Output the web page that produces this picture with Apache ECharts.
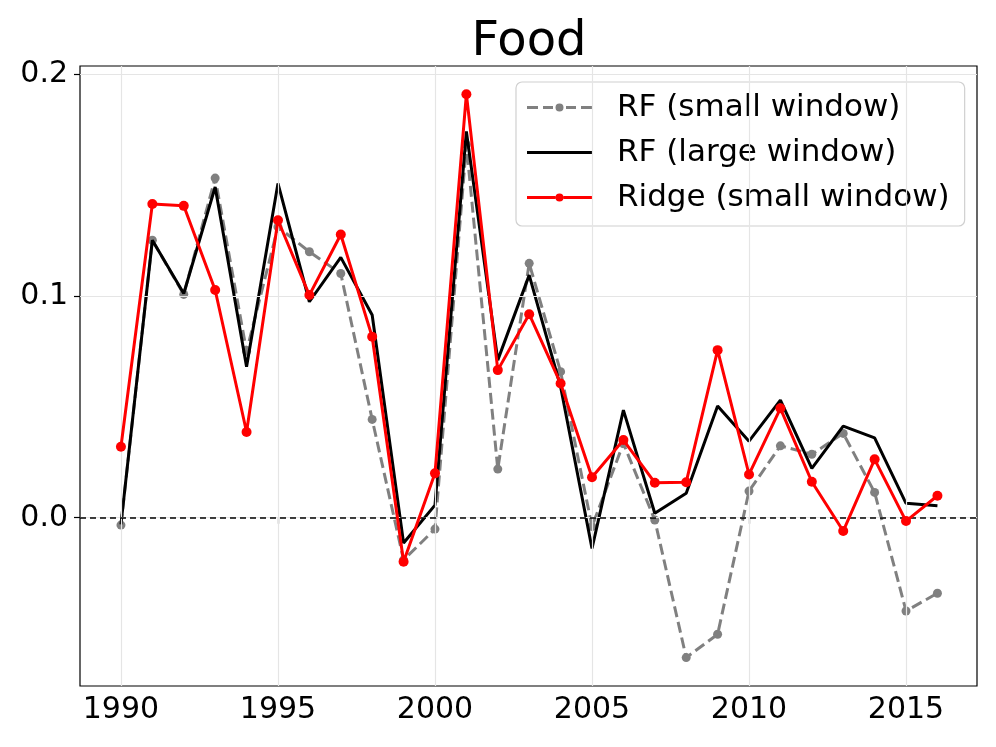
<!DOCTYPE html>
<html>
<head>
<meta charset="utf-8">
<script src="https://cdn.jsdelivr.net/npm/echarts@6/dist/echarts.min.js"></script>
<style>html,body{margin:0;padding:0;background:#fff}#c{width:996px;height:747px}</style>
</head>
<body>
<div id="c"></div>
<script>
var years = [1990,1991,1992,1993,1994,1995,1996,1997,1998,1999,2000,2001,2002,2003,2004,2005,2006,2007,2008,2009,2010,2011,2012,2013,2014,2015,2016];
var rfSmall = [-0.0033,0.125,0.1006,0.153,0.075,0.131,0.1198,0.110,0.0443,-0.019,-0.0051,0.168,0.0219,0.1146,0.0658,-0.004,0.0335,-0.001,-0.063,-0.0525,0.012,0.0324,0.0286,0.038,0.0114,-0.042,-0.034];
var rfLarge = [-0.003,0.125,0.101,0.149,0.068,0.1506,0.0973,0.1173,0.0913,-0.0114,0.0057,0.174,0.071,0.1093,0.059,-0.0138,0.0485,0.002,0.011,0.0503,0.0345,0.053,0.0222,0.0413,0.036,0.0065,0.0054];
var ridge = [0.032,0.1413,0.1405,0.1026,0.0386,0.134,0.1003,0.1276,0.0815,-0.0198,0.020,0.1908,0.0665,0.0917,0.0605,0.0182,0.035,0.0158,0.016,0.0755,0.0195,0.0493,0.0162,-0.006,0.0263,-0.0015,0.0099];
var xTicks = [1990,1995,2000,2005,2010,2015];
var yTicks = [0.0,0.1,0.2];
var names = ['RF (small window)','RF (large window)','Ridge (small window)'];

function pairs(v){ return years.map(function(y,i){ return [y, v[i]]; }); }
var FONT = 'DejaVu Sans';
var DOT = ' M28.5,5a4,4 0 1,1 8,0a4,4 0 1,1 -8,0z';
var iconDashed = 'path://M0,3.5h11v3h-11z M16,3.5h10v3h-10z M39,3.5h10v3h-10z M54,3.5h11v3h-11z' + DOT;
var iconSolid = 'path://M0,3.5h65v3h-65z';
var iconSolidDot = 'path://M0,3.5h28.5v3h-28.5z M36.5,3.5h28.5v3h-28.5z' + DOT;
var chart = echarts.init(document.getElementById('c'), null, {renderer:'canvas'});
var gridLines = xTicks.map(function(t){ return {xAxis:t}; }).concat(yTicks.map(function(t){ return {yAxis:t}; }));
chart.setOption({
  animation:false,
  backgroundColor:'#fff',
  title:{text:'Food', left:524, textAlign:'center', top:14, textStyle:{fontFamily:FONT, fontSize:48, fontWeight:'normal', color:'#000'}},
  grid:{left:80, right:19, top:66, bottom:61, show:true, borderColor:'#000', borderWidth:1.2, backgroundColor:'transparent'},
  legend:{
    data:[{name:names[0], icon:iconDashed},{name:names[1], icon:iconSolid},{name:names[2], icon:iconSolidDot}],
    orient:'vertical', left:516, top:82,
    itemWidth:65, itemHeight:10, itemGap:10,
    padding:[8,15,11,11],
    backgroundColor:'rgba(255,255,255,0.8)', borderColor:'#d0d0d0', borderWidth:1.2, borderRadius:6,
    textStyle:{fontFamily:FONT, fontSize:31, lineHeight:35, color:'#000', padding:[0,0,0,20]}
  },
  xAxis:{
    type:'value', min:1988.696, max:2017.26,
    axisLine:{show:false},
    splitLine:{show:false},
    axisTick:{show:true, customValues:xTicks, length:6, lineStyle:{color:'#000', width:1.2}},
    axisLabel:{customValues:xTicks, fontFamily:FONT, fontSize:30, color:'#000', margin:9, formatter:function(v){return String(v);}}
  },
  yAxis:{
    type:'value', min:-0.0758, max:0.2035,
    axisLine:{show:false},
    splitLine:{show:false},
    axisTick:{show:true, customValues:yTicks, length:6, lineStyle:{color:'#000', width:1.2}},
    axisLabel:{customValues:yTicks, fontFamily:FONT, fontSize:30, color:'#000', margin:12, formatter:function(v){return v.toFixed(1);}}
  },
  series:[
    {type:'line', name:'grid', data:[], z:1, silent:true,
      markLine:{silent:true, symbol:'none', label:{show:false}, animation:false,
        lineStyle:{color:'#e5e5e5', width:1.2, type:'solid'}, data:gridLines}},
    {type:'line', name:'zero', data:[], z:1, silent:true,
      markLine:{silent:true, symbol:'none', label:{show:false}, animation:false,
        lineStyle:{color:'#000', width:1.5, type:[6,4]}, data:[{yAxis:0}]}},
    {type:'line', name:names[0], data:pairs(rfSmall), z:3,
      symbol:'circle', symbolSize:9, showSymbol:true,
      itemStyle:{color:'#808080'},
      lineStyle:{color:'#808080', width:3, type:[11,5]}},
    {type:'line', name:names[1], data:pairs(rfLarge), z:4,
      symbol:'none',
      itemStyle:{color:'#000'},
      lineStyle:{color:'#000', width:3}},
    {type:'line', name:names[2], data:pairs(ridge), z:5,
      symbol:'circle', symbolSize:10, showSymbol:true,
      itemStyle:{color:'#ff0000'},
      lineStyle:{color:'#ff0000', width:3}}
  ]
});
</script>
</body>
</html>
